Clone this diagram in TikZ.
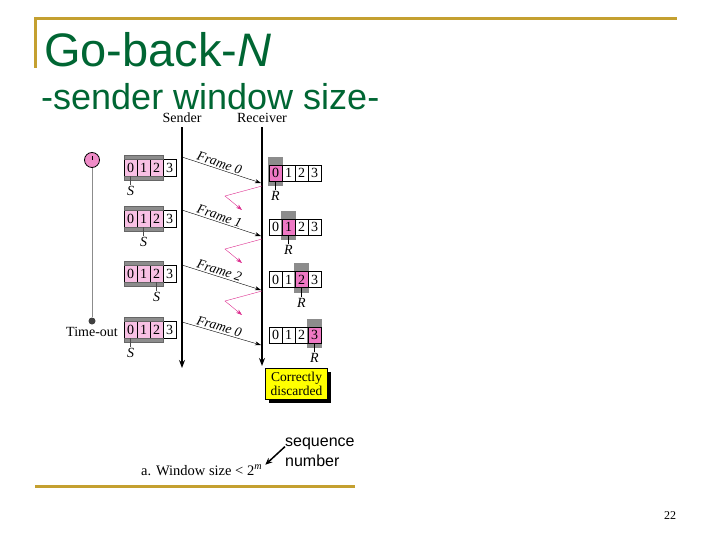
\documentclass[tikz,border=0pt]{standalone}
\usepackage{fontspec}
\setmainfont{Liberation Serif}
\newfontfamily\slidefont{Liberation Sans}
\usetikzlibrary{arrows.meta, positioning, shadows, backgrounds}
\definecolor{rulegold}{RGB}{196,160,48}
\definecolor{titlegreen}{RGB}{0,102,51}
\definecolor{winpink}{RGB}{248,192,228}
\definecolor{recpink}{RGB}{238,120,196}
\definecolor{timerpink}{RGB}{240,140,200}
\definecolor{bargray}{RGB}{140,140,140}
\definecolor{ackmag}{RGB}{220,40,140}
\definecolor{discyellow}{RGB}{255,255,0}

\begin{document}
\begin{tikzpicture}[x=1pt, y=-1pt,
  lbl/.style={inner sep=1pt, font=\fontsize{14}{16}\selectfont},
  cell/.style={draw, minimum width=13pt, minimum height=17pt, inner sep=0pt, font=\fontsize{14}{14}\selectfont, fill=#1},
  cell/.default=white,
  timeline/.style={-{Stealth[length=8pt, width=6pt]}, line width=1.4pt},
  frame/.style={-{Stealth[length=6pt, width=4pt]}, thin},
  framelbl/.style={font=\itshape\fontsize{13.5}{13.5}\selectfont, inner sep=1.5pt},
  ack/.style={-{Stealth[length=6pt, width=4pt]}, thin, draw=ackmag},
  rulebar/.style={draw=rulegold, line width=3pt},
]
\useasboundingbox (0,0) rectangle (720,540);

% slide frame and title
\draw[rulebar] (35,68) -- (35,19) -- (677,19);
\draw[rulebar] (35,486) -- (355,486);
\node[anchor=base west, inner sep=0pt, text=titlegreen, font=\slidefont\fontsize{47}{47}\selectfont] (title) at (44,67) {Go-back-\textit{N}};
\node[anchor=base west, inner sep=0pt, text=titlegreen, font=\slidefont\fontsize{36}{36}\selectfont] (subtitle) at (41,110) {-sender window size-};

% time lines
\node[lbl] (sender) at (182,118) {Sender};
\node[lbl] (receiver) at (262,118) {Receiver};
\coordinate (sEnd) at (182,368);
\coordinate (rEnd) at (262,366);
\draw[timeline] ([yshift=-3pt]sender.south) -- (sEnd);
\draw[timeline] ([yshift=-3pt]receiver.south) -- (rEnd);

% timer
\node[circle, draw, thick, fill=timerpink, minimum size=15pt, inner sep=0pt] (clock) at (92,160) {};
\draw[thick] (clock.center) -- ([yshift=4pt]clock.center);
\node[circle, fill=black!75, minimum size=7pt, inner sep=0pt] (tout) at (92,321) {};
\draw[bargray, thick] (clock.south) -- (tout.north);
\node[lbl, below=1pt of tout] (toutlbl) {Time-out};

% sender windows
\foreach \i/\y/\s in {1/167.5/0, 2/218.5/1, 3/273.5/2, 4/329.5/0} {
  \foreach \k/\c in {0/winpink, 1/winpink, 2/winpink, 3/white}
    \node[cell=\c] (s\i-\k) at (130.5+13*\k,\y) {\k};
  \fill[bargray, draw=black!60] ([yshift=4pt]s\i-0.north west) rectangle (s\i-2.north east);
  \fill[bargray, draw=black!60] (s\i-0.south west) rectangle ([yshift=-4pt]s\i-2.south east);
  \node[lbl] (sl\i) at ([yshift=-15pt]s\i-\s.south) {\textit{S}};
  \draw[black!70] (s\i-\s.south) -- (sl\i.north);
}

% receiver windows
\foreach \i/\y/\h in {1/173/0, 2/227/1, 3/279.5/2, 4/335/3} {
  \foreach \k in {0,...,3}
    \node[cell=none, minimum height=16pt] (r\i-\k) at (275.5+13*\k,\y) {\k};
  \begin{scope}[on background layer]
    \fill[bargray] ([xshift=-1pt, yshift=8pt]r\i-\h.north west) rectangle ([xshift=1pt, yshift=-5pt]r\i-\h.south east);
    \fill[recpink] (r\i-\h.north west) rectangle (r\i-\h.south east);
  \end{scope}
  \node[lbl] (rl\i) at ([yshift=-15pt]r\i-\h.south) {\textit{R}};
  \draw (r\i-\h.south) -- (rl\i.north);
}

% frames
\foreach \i/\ys/\yr/\f in {1/157/183/0, 2/210/236/1, 3/265/290/2, 4/322/345/0} {
  \coordinate (fs\i) at (182,\ys);
  \coordinate (fr\i) at (261,\yr);
  \draw[frame] (fs\i) -- (fr\i) node[pos=0.45, above, sloped, framelbl] {Frame \f};
}

% lost acks
\foreach \i/\y in {1/186, 2/239, 3/291} {
  \coordinate (as\i) at (262,\y);
  \coordinate (am\i) at (225,\y+10);
  \coordinate (ae\i) at (242,\y+24);
  \draw[ack] (as\i) -- (am\i) -- (ae\i);
}

\node[draw, fill=discyellow, align=center, inner sep=2pt, minimum width=62pt, minimum height=31pt,
  font=\fontsize{13.5}{14.5}\selectfont,
  drop shadow={shadow xshift=3pt, shadow yshift=-3pt, fill=black, opacity=1}] (discard) at (296.5,384) {Correctly\\discarded};

% caption
\node[anchor=base west, inner sep=1pt, font=\fontsize{14.5}{16}\selectfont] (caption) at (140,475) {a. Window size < 2\textsuperscript{\textit{m}}};
\node[anchor=north west, align=left, inner sep=0pt, font=\slidefont\fontsize{16}{20}\selectfont] (seqnum) at (285,438) {sequence\\number};
\draw[-{Stealth[length=7pt, width=6pt]}, line width=1.5pt] ([yshift=6pt]seqnum.west) -- ([xshift=2pt, yshift=-1pt]caption.north east);

\node[font=\fontsize{12}{12}\selectfont] (pagenum) at (670,516) {22};
\end{tikzpicture}
\end{document}
